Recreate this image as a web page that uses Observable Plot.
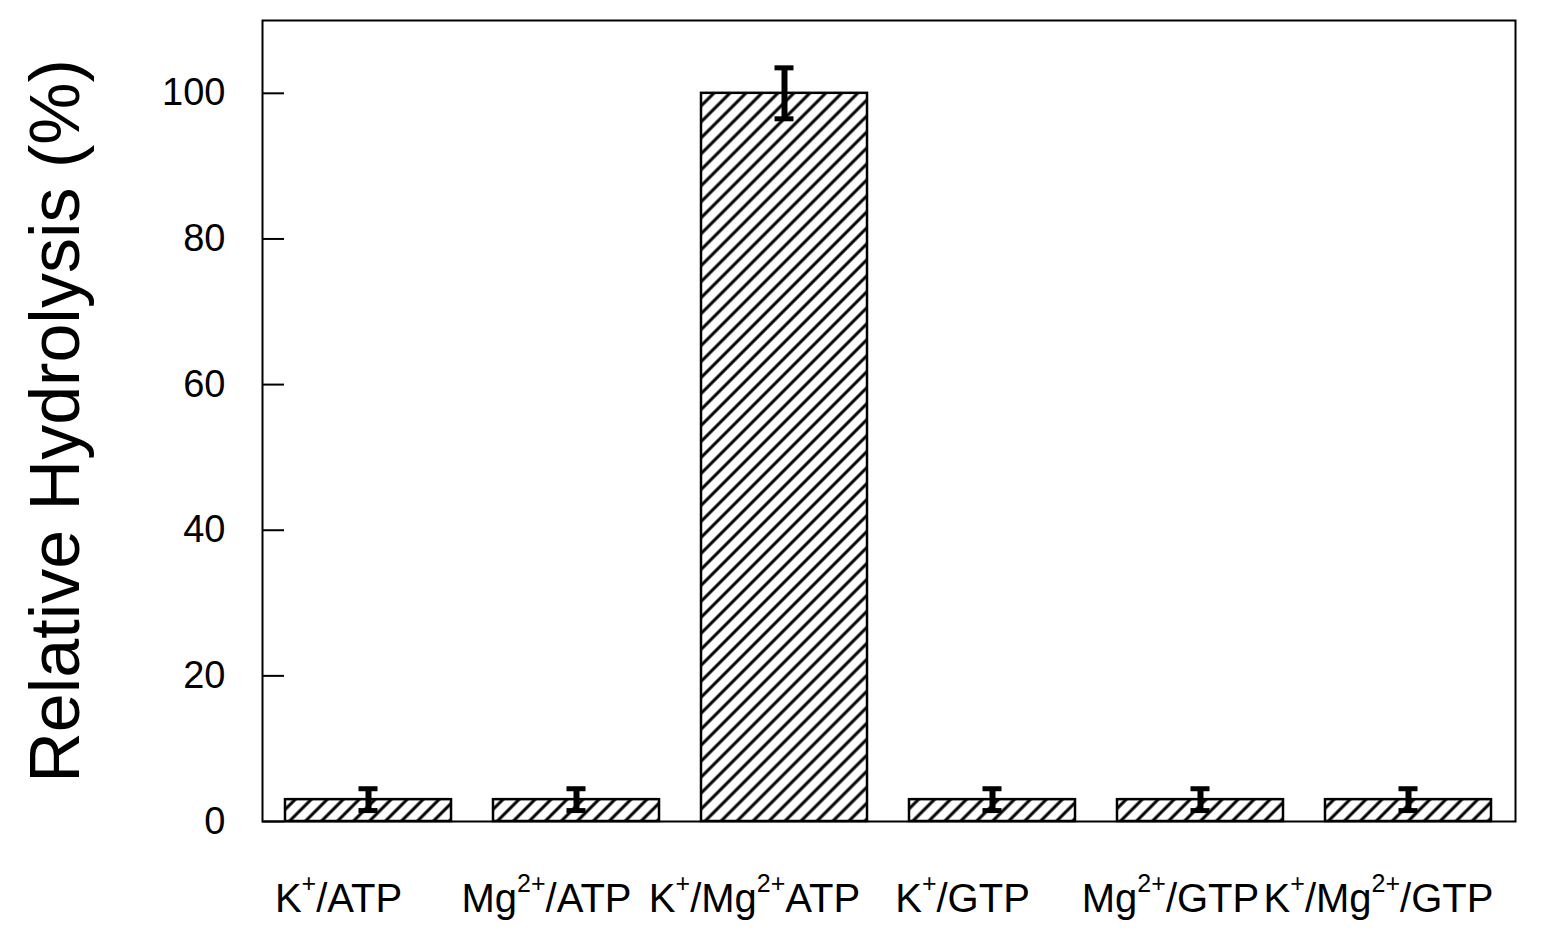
<!DOCTYPE html>
<html><head><meta charset="utf-8">
<script src="https://cdn.jsdelivr.net/npm/d3@7"></script>
<script src="https://cdn.jsdelivr.net/npm/@observablehq/plot@0.6"></script>
<style>body{margin:0;background:#fff} svg{display:block}</style>
</head><body><div id="chart"></div>
<script>
const categories = ["K+/ATP","Mg2+/ATP","K+/Mg2+ATP","K+/GTP","Mg2+/GTP","K+/Mg2+/GTP"];
const values = [3, 3, 100, 3, 3, 3];
const errors = [1.5, 1.5, 3.5, 1.5, 1.5, 1.5];
const yTicks = [0, 20, 40, 60, 80, 100];
const yLabel = "Relative Hydrolysis (%)";

const data = categories.map((c, i) => ({cat: c, value: values[i], lo: values[i] - errors[i], hi: values[i] + errors[i]}));

const chart = Plot.plot({
  width: 1563, height: 941,
  marginLeft: 262, marginRight: 48, marginTop: 20, marginBottom: 120,
  style: {fontFamily: "'Liberation Sans', Arial, sans-serif", background: "white", color: "black", overflow: "visible"},
  x: {domain: categories, paddingInner: 0.2, paddingOuter: 0.1},
  y: {domain: [0, 110]},
  marks: [
    Plot.barY(data, {x: "cat", y: "value", fill: "url(#hatch)", stroke: "black", strokeWidth: 2.5}),
    Plot.ruleX(data, {x: "cat", y1: "lo", y2: "hi", stroke: "black", strokeWidth: 6}),
    Plot.tickY(data, {x: "cat", y: "lo", stroke: "black", strokeWidth: 5, insetLeft: 73.5, insetRight: 73.5}),
    Plot.tickY(data, {x: "cat", y: "hi", stroke: "black", strokeWidth: 5, insetLeft: 73.5, insetRight: 73.5}),
    Plot.frame({stroke: "black", strokeWidth: 2}),
    Plot.axisY({ticks: yTicks, tickSize: -22, tickPadding: 59, fontSize: 38, label: null, stroke: "black", strokeWidth: 2}),
    Plot.axisX({tickSize: 0, tickPadding: 62, fontSize: 40, dx: -30, label: null}),
    Plot.text([yLabel], {text: d => d, frameAnchor: "left", textAnchor: "middle", rotate: -90, dx: -206, fontSize: 70, fill: "black"})
  ]
});

const svg = d3.select(chart);
const defs = svg.insert("defs", ":first-child");
const s = 11.3;
const p = defs.append("pattern").attr("id", "hatch").attr("patternUnits", "userSpaceOnUse")
  .attr("width", s).attr("height", s).attr("patternTransform", "rotate(45)");
p.append("rect").attr("width", s).attr("height", s).attr("fill", "white");
p.append("line").attr("x1", s/2).attr("y1", -1).attr("x2", s/2).attr("y2", s + 1)
  .attr("stroke", "black").attr("stroke-width", 3);

svg.selectAll('g[aria-label="x-axis tick label"] text').each(function() {
  const t = d3.select(this);
  const str = this.textContent;
  t.text(null);
  const parts = str.split(/(2\+|\+)/);
  let raised = false;
  parts.forEach((part, i) => {
    if (!part) return;
    const sup = i % 2 === 1;
    const ts = t.append("tspan").text(part);
    if (sup) {
      ts.attr("font-size", 25).attr("dy", raised ? 0 : -20);
      raised = true;
    } else if (raised) {
      ts.attr("dy", 20);
      raised = false;
    }
  });
});

document.getElementById("chart").append(chart);
</script>
</body></html>
